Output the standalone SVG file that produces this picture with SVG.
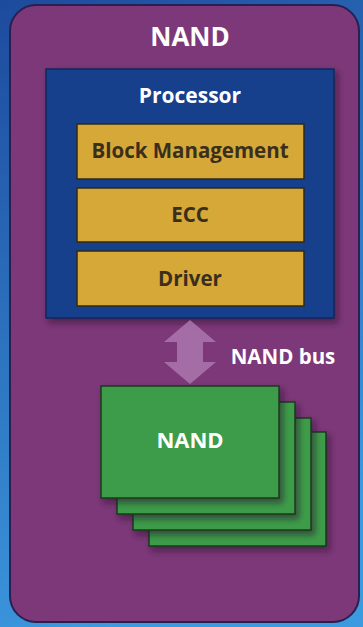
<svg xmlns="http://www.w3.org/2000/svg" width="363" height="627" viewBox="0 0 363 627">
<defs>
<linearGradient id="bg" x1="0" y1="0" x2="0.3" y2="1">
<stop offset="0" stop-color="#1d4a9c"/>
<stop offset="1" stop-color="#3c9ae0"/>
</linearGradient>
<filter id="sh" x="-20%" y="-20%" width="150%" height="150%">
<feDropShadow dx="3" dy="4" stdDeviation="3" flood-color="#2a0f30" flood-opacity="0.6"/>
</filter>
</defs>
<style>
text{font-family:"Open Sans","Noto Sans","Liberation Sans",sans-serif;font-weight:bold;text-anchor:middle}
.w{fill:#ffffff}
.d{fill:#3a2e1c}
.gold{fill:#d5a838;stroke:#2e2a1c;stroke-width:1.5}
.green{fill:#3c9c48;stroke:#173a1c;stroke-width:1.5}
</style>
<rect x="0" y="0" width="363" height="627" fill="url(#bg)"/>
<g id="nand-container">
<rect x="10" y="5" width="349" height="617" rx="26" fill="#7c3878" stroke="#2b1f4f" stroke-width="2"/>
<text class="w" x="190" y="46" font-size="26">NAND</text>
</g>
<g id="processor">
<rect x="46" y="69" width="288" height="249" fill="#173f8c" stroke="#10285e" stroke-width="1.5" filter="url(#sh)"/>
<text class="w" x="190" y="103" font-size="21">Processor</text>
</g>
<g id="block-management">
<rect class="gold" x="77" y="124" width="227" height="55"/>
<text class="d" x="190" y="158" font-size="20.5">Block Management</text>
</g>
<g id="ecc">
<rect class="gold" x="77" y="188" width="227" height="54"/>
<text class="d" x="190" y="222" font-size="20.5">ECC</text>
</g>
<g id="driver">
<rect class="gold" x="77" y="251" width="227" height="55"/>
<text class="d" x="190" y="286" font-size="20.5">Driver</text>
</g>
<g id="connectors">
<path d="M190,320 L216,342 L203,342 L203,362 L216,362 L190,384 L164,362 L177,362 L177,342 L164,342 Z" fill="#b27fb6" opacity="0.75"/>
<text class="w" x="283" y="364" font-size="20.5">NAND bus</text>
</g>
<g id="nand-chips">
<rect class="green" x="149" y="432" width="177" height="114" filter="url(#sh)"/>
<rect class="green" x="133" y="418" width="178" height="112" filter="url(#sh)"/>
<rect class="green" x="117" y="402" width="178" height="112" filter="url(#sh)"/>
<rect class="green" x="101" y="386" width="178" height="112" filter="url(#sh)"/>
<text class="w" x="190" y="448" font-size="22">NAND</text>
</g>
</svg>
